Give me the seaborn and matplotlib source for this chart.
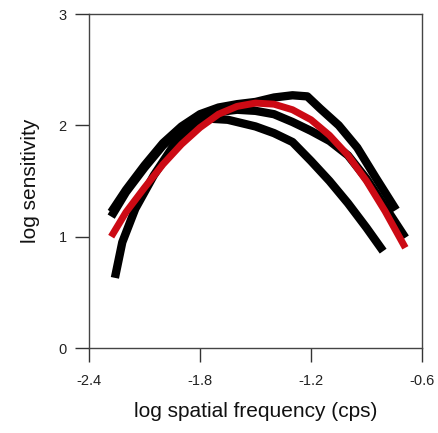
import matplotlib
matplotlib.use("Agg")
import matplotlib.pyplot as plt
import seaborn as sns
import pandas as pd

# Data (log spatial frequency vs log sensitivity)
b1_x = [-2.28, -2.2, -2.1, -2.0, -1.9, -1.8, -1.7, -1.6, -1.5, -1.4, -1.3, -1.22, -1.15, -1.05, -0.95, -0.85, -0.74]
b1_y = [1.22, 1.42, 1.64, 1.84, 1.99, 2.10, 2.16, 2.19, 2.21, 2.25, 2.27, 2.26, 2.15, 2.00, 1.80, 1.53, 1.24]

b2_x = [-2.28, -2.2, -2.1, -2.0, -1.9, -1.8, -1.7, -1.6, -1.5, -1.4, -1.3, -1.2, -1.1, -1.0, -0.9, -0.8, -0.69]
b2_y = [1.18, 1.40, 1.62, 1.82, 1.97, 2.07, 2.12, 2.14, 2.13, 2.10, 2.03, 1.95, 1.86, 1.73, 1.52, 1.27, 0.99]

b3_x = [-2.26, -2.22, -2.15, -2.05, -1.95, -1.85, -1.75, -1.65, -1.5, -1.4, -1.3, -1.2, -1.1, -1.0, -0.9, -0.81]
b3_y = [0.63, 0.95, 1.25, 1.55, 1.80, 1.97, 2.06, 2.05, 1.99, 1.93, 1.85, 1.68, 1.50, 1.30, 1.08, 0.87]

red_x = [-2.28, -2.2, -2.1, -2.0, -1.9, -1.8, -1.7, -1.6, -1.5, -1.4, -1.3, -1.2, -1.1, -1.0, -0.9, -0.8, -0.69]
red_y = [1.00, 1.22, 1.44, 1.65, 1.83, 1.98, 2.10, 2.17, 2.20, 2.19, 2.14, 2.05, 1.91, 1.73, 1.50, 1.23, 0.90]

x_ticks = [-2.4, -1.8, -1.2, -0.6]
x_tick_labels = ["-2.4", "-1.8", "-1.2", "-0.6"]
y_ticks = [0, 1, 2, 3]
y_tick_labels = ["0", "1", "2", "3"]

sns.set_style("white")
plt.rcParams["font.family"] = ["Liberation Sans", "DejaVu Sans"]

fig = plt.figure(figsize=(4.38, 4.33), dpi=100)
ax = fig.add_axes([89/438, 85/433, (422-89)/438, (348-14)/433])

black_sets = [(b1_x, b1_y), (b2_x, b2_y), (b3_x, b3_y)]
for xs, ys in black_sets:
    df = pd.DataFrame({"x": xs, "y": ys})
    sns.lineplot(data=df, x="x", y="y", ax=ax, color="black", linewidth=6.0,
                 sort=False, estimator=None, solid_capstyle="butt", solid_joinstyle="round")
df_r = pd.DataFrame({"x": red_x, "y": red_y})
sns.lineplot(data=df_r, x="x", y="y", ax=ax, color="#cc0a14", linewidth=5.0,
             sort=False, estimator=None, solid_capstyle="butt", solid_joinstyle="round")

ax.set_xlim(-2.4, -0.6)
ax.set_ylim(0, 3)
ax.set_xticks(x_ticks)
ax.set_xticklabels(x_tick_labels)
ax.set_yticks(y_ticks)
ax.set_yticklabels(y_tick_labels)
ax.tick_params(axis="both", direction="out", length=10, width=1.0, color="#333333",
               labelsize=10.5, bottom=True, left=True, top=False, right=False,
               labelcolor="#222222")
ax.tick_params(axis="x", pad=9)
ax.tick_params(axis="y", pad=6)
for s in ax.spines.values():
    s.set_color("#444444")
    s.set_linewidth(1.0)
ax.set_xlabel("log spatial frequency (cps)", fontsize=15, labelpad=10, color="#111111")
ax.set_ylabel("log sensitivity", fontsize=15, labelpad=13, color="#111111")

fig.savefig("out.png", dpi=100)
